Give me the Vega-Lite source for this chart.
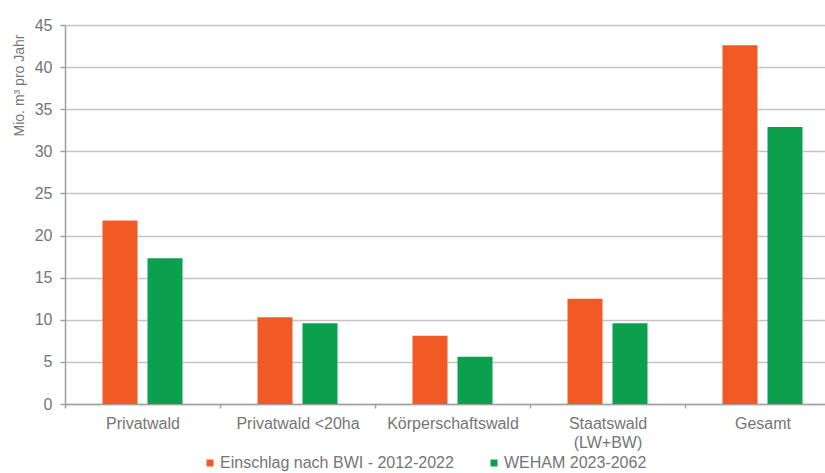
{
  "$schema": "https://vega.github.io/schema/vega-lite/v6.json",
  "width": 760,
  "height": 379,
  "autosize": {"type": "none"},
  "padding": {"left": 65, "top": 25, "right": 0, "bottom": 69},
  "background": "#ffffff",
  "config": {
    "font": "Liberation Sans",
    "view": {"stroke": null},
    "axis": {
      "labelColor": "#757575",
      "titleColor": "#757575",
      "labelFontSize": 16,
      "titleFontSize": 14,
      "titleFontWeight": "normal",
      "domainColor": "#a0a0a0",
      "domainWidth": 1.5,
      "tickColor": "#a0a0a0",
      "tickWidth": 1.5,
      "gridColor": "#c4c4c4",
      "gridWidth": 1.6
    },
    "legend": {"labelColor": "#757575", "labelFontSize": 16, "labelLimit": 400}
  },
  "data": {
    "values": [
      {"Kategorie": "Privatwald", "Reihe": "Einschlag nach BWI - 2012-2022", "Wert": 21.8},
      {"Kategorie": "Privatwald", "Reihe": "WEHAM 2023-2062", "Wert": 17.3},
      {"Kategorie": "Privatwald <20ha", "Reihe": "Einschlag nach BWI - 2012-2022", "Wert": 10.3},
      {"Kategorie": "Privatwald <20ha", "Reihe": "WEHAM 2023-2062", "Wert": 9.6},
      {"Kategorie": "Körperschaftswald", "Reihe": "Einschlag nach BWI - 2012-2022", "Wert": 8.1},
      {"Kategorie": "Körperschaftswald", "Reihe": "WEHAM 2023-2062", "Wert": 5.6},
      {"Kategorie": "Staatswald (LW+BW)", "Reihe": "Einschlag nach BWI - 2012-2022", "Wert": 12.5},
      {"Kategorie": "Staatswald (LW+BW)", "Reihe": "WEHAM 2023-2062", "Wert": 9.6},
      {"Kategorie": "Gesamt", "Reihe": "Einschlag nach BWI - 2012-2022", "Wert": 42.6},
      {"Kategorie": "Gesamt", "Reihe": "WEHAM 2023-2062", "Wert": 32.9}
    ]
  },
  "mark": {"type": "bar"},
  "encoding": {
    "x": {
      "field": "Kategorie",
      "type": "nominal",
      "sort": null,
      "scale": {"range": [0, 775], "paddingInner": 0, "paddingOuter": 0},
      "axis": {
        "title": null,
        "labelAngle": 0,
        "labelPadding": 7,
        "tickBand": "extent",
        "tickSize": 4,
        "labelExpr": "datum.value == 'Staatswald (LW+BW)' ? ['Staatswald', '(LW+BW)'] : datum.value",
        "labelLineHeight": 19,
        "labelLimit": 200
      }
    },
    "xOffset": {
      "field": "Reihe",
      "type": "nominal",
      "scale": {"paddingInner": 0.2222, "paddingOuter": 0.8333}
    },
    "y": {
      "field": "Wert",
      "type": "quantitative",
      "scale": {"domain": [0, 45], "nice": false},
      "axis": {
        "title": "Mio. m³ pro Jahr",
        "titleAlign": "center",
        "titleX": -39,
        "titleY": 60,
        "values": [0, 5, 10, 15, 20, 25, 30, 35, 40, 45],
        "tickSize": 5,
        "labelPadding": 8
      }
    },
    "color": {
      "field": "Reihe",
      "type": "nominal",
      "scale": {
        "domain": ["Einschlag nach BWI - 2012-2022", "WEHAM 2023-2062"],
        "range": ["#f15a24", "#0aa04e"]
      },
      "legend": {
        "title": null,
        "orient": "none",
        "direction": "horizontal",
        "legendX": 137,
        "legendY": 430,
        "symbolType": "square",
        "symbolSize": 49,
        "symbolOffset": 0,
        "labelOffset": 2,
        "columnPadding": 32
      }
    }
  }
}
